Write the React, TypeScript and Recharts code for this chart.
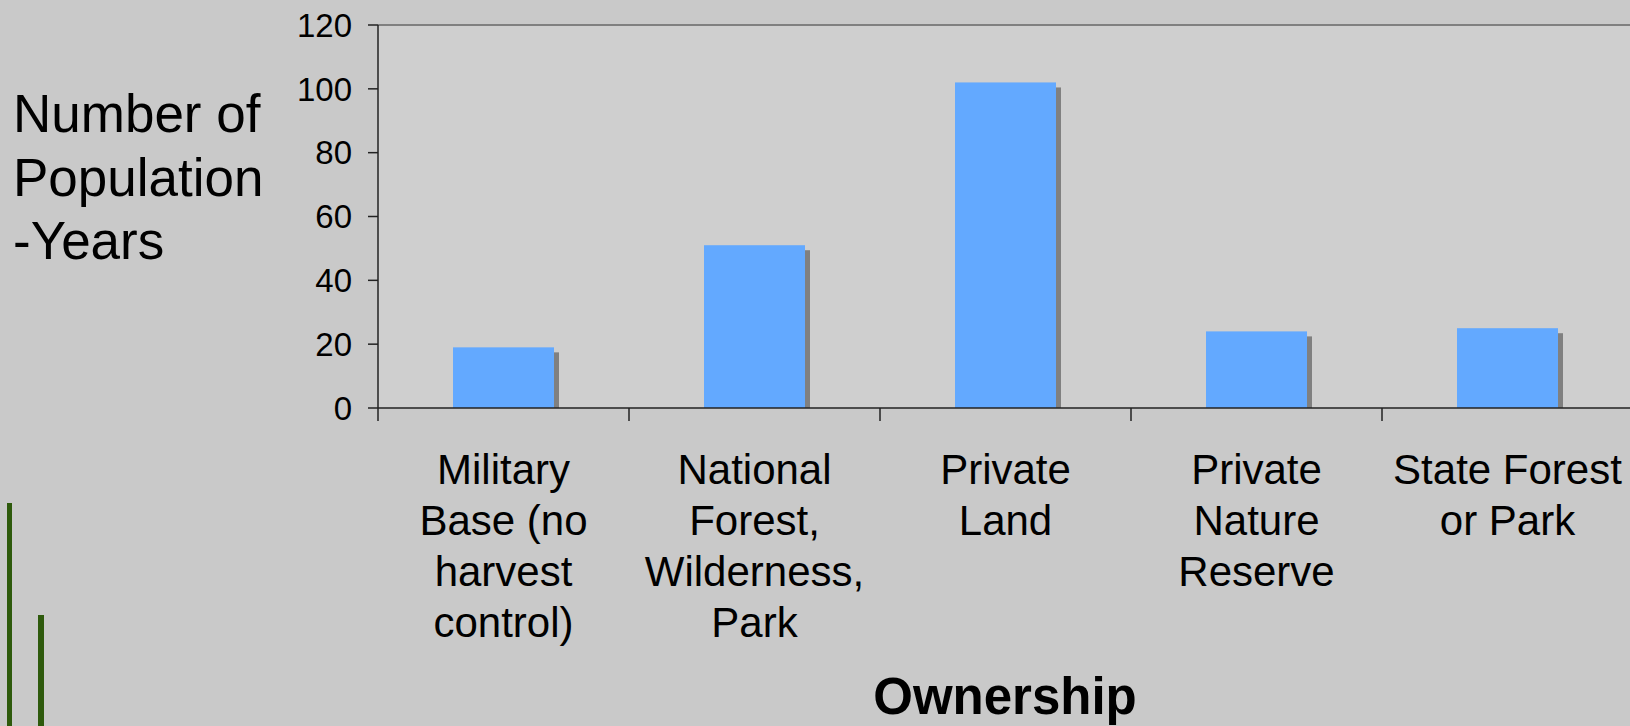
import React from "react"
import { BarChart, Bar, XAxis, YAxis, CartesianGrid, ReferenceLine } from "recharts"

const categories = [
  "Military\nBase (no\nharvest\ncontrol)",
  "National\nForest,\nWilderness,\nPark",
  "Private\nLand",
  "Private\nNature\nReserve",
  "State Forest\nor Park",
]
const populationYears = [19, 51, 102, 24, 25]
const yTicks = [0, 20, 40, 60, 80, 100, 120]

const data = categories.map((name, i) => ({ name, value: populationYears[i] }))

const FONT = '"Liberation Sans", Arial, Helvetica, sans-serif'

function CategoryTick(props: any) {
  const { x, y, payload } = props
  const lines = String(payload.value).split("\n")
  const off = payload.offset ?? 0
  return (
    <g>
      <line x1={x - off} x2={x - off} y1={y} y2={y + 13} stroke="#222" strokeWidth={1.5} />
      <text x={x} y={y + 76} textAnchor="middle" fontSize={42} fontFamily={FONT} fill="#000">
        {lines.map((l, i) => (
          <tspan key={i} x={x} dy={i === 0 ? 0 : 51}>
            {l}
          </tspan>
        ))}
      </text>
    </g>
  )
}

function ShadowBar(props: any) {
  const { x, y, width, height, fill } = props
  if (!height || height <= 0) return null
  return (
    <g>
      <rect x={x + 5} y={y + 5} width={width} height={Math.max(height - 5, 0)} fill="#808080" />
      <rect x={x} y={y} width={width} height={height} fill={fill} />
    </g>
  )
}

export default function App() {
  return (
    <div
      style={{
        position: "absolute",
        left: 0,
        top: 0,
        width: 1630,
        height: 726,
        overflow: "hidden",
        background: "#c9c9c9",
        fontFamily: FONT,
      }}
    >
      <div style={{ position: "absolute", left: 7, top: 503, width: 5, height: 223, background: "#2e5a0c" }} />
      <div style={{ position: "absolute", left: 38, top: 615, width: 6, height: 111, background: "#2e5a0c" }} />
      <div
        style={{
          position: "absolute",
          left: 13,
          top: 82,
          fontSize: 53,
          lineHeight: "63.5px",
          color: "#000",
          whiteSpace: "pre",
        }}
      >
        {"Number of\nPopulation\n-Years"}
      </div>
      <div
        style={{
          position: "absolute",
          left: 805,
          width: 400,
          top: 671,
          textAlign: "center",
          fontSize: 51,
          fontWeight: "bold",
          lineHeight: 1,
          color: "#000",
        }}
      >
        Ownership
      </div>
      <div style={{ position: "absolute", left: 0, top: 0 }}>
        <BarChart width={1650} height={726} data={data} margin={{ top: 25, right: 17, left: 0, bottom: 0 }}>
          <CartesianGrid horizontal={false} vertical={false} fill="#cfcfcf" />
          <ReferenceLine y={120} stroke="#808080" strokeWidth={2} />
          <YAxis
            width={378}
            domain={[0, 120]}
            ticks={yTicks}
            interval={0}
            tickSize={10}
            tickMargin={16}
            axisLine={{ stroke: "#222", strokeWidth: 1.5 }}
            tickLine={{ stroke: "#222", strokeWidth: 1.5 }}
            tick={{ fontSize: 33, fill: "#000", fontFamily: FONT }}
          />
          <XAxis
            dataKey="name"
            height={318}
            interval={0}
            tickSize={0}
            tickMargin={0}
            tickLine={false}
            axisLine={{ stroke: "#222", strokeWidth: 1.5 }}
            tick={<CategoryTick />}
          />
          <Bar dataKey="value" fill="#63a9ff" barSize={101} shape={<ShadowBar />} isAnimationActive={false} />
        </BarChart>
      </div>
    </div>
  )
}
